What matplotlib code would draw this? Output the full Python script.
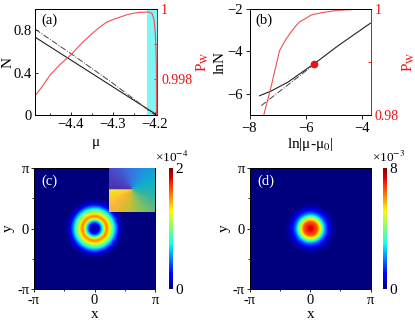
import numpy as np
import matplotlib
matplotlib.use("Agg")
import matplotlib.pyplot as plt
from matplotlib.colors import LinearSegmentedColormap

plt.rcParams['font.family'] = ['Liberation Serif', 'DejaVu Serif']
plt.rcParams['mathtext.fontset'] = 'stix'
plt.rcParams['axes.linewidth'] = 0.7

# panel (a)
mu_a = [-4.485, -4.195]
N_solid_a = [0.735, 0.0]
mu_dash_a = [-4.485, -4.40, -4.30, -4.20]
N_dash_a = [0.81, 0.58, 0.30, 0.0]
mu_pw_a = [-4.485, -4.47, -4.449, -4.425, -4.40, -4.385, -4.37, -4.35, -4.33, -4.315, -4.298,
           -4.28, -4.266, -4.25, -4.235, -4.215, -4.207, -4.202, -4.199, -4.1975, -4.1965, -4.196]
pw_a = [0.997514, 0.99775, 0.998114, 0.99842, 0.998686, 0.99888, 0.999066, 0.99929, 0.999494,
        0.99962, 0.999706, 0.99978, 0.999838, 0.99988, 0.999906, 0.999914, 0.999877, 0.999686,
        0.999306, 0.99885, 0.99835, 0.99697]
band_a = [-4.218, -4.195]

# panel (b)
lnmu_b = [-7.64, -7.23, -6.63, -6.04, -5.70, -4.85, -3.69]
lnN_b = [-6.09, -5.87, -5.45, -4.90, -4.59, -3.74, -2.67]
lnmu_dash_b = [-7.58, -5.70]
lnN_dash_b = [-6.56, -4.62]
lnmu_pw_b = [-7.49, -7.23, -6.93, -6.70, -6.51, -6.35, -6.21, -6.00, -5.80, -5.44, -4.85, -4.25, -3.69]
pw_b = [0.98, 0.98534, 0.99213, 0.9943, 0.99572, 0.9968, 0.9976, 0.9982, 0.99887, 0.9993,
        0.99975, 0.99992, 1.0]
point_b = (-5.70, -4.58)

# radial density profiles of (c) and (d), read along the radius
r_c = [0.0, 0.15, 0.26, 0.35, 0.44, 0.52, 0.62, 0.72, 0.80, 0.90, 1.04, 1.15, 1.27, 1.42, 1.6, 5.0]
dens_c = [0.05, 0.1, 0.25, 0.55, 0.85, 1.3, 1.55, 1.4, 1.25, 1.0, 0.7, 0.45, 0.2, 0.05, 0.0, 0.0]
r_d = [0.0, 0.1, 0.2, 0.35, 0.45, 0.52, 0.6, 0.69, 0.8, 0.95, 1.1, 1.25, 1.45, 5.0]
dens_d = [7.7, 7.4, 7.0, 6.6, 5.6, 5.0, 3.9, 2.8, 1.8, 0.9, 0.35, 0.1, 0.0, 0.0]

# colours round the inset phase picture, starting just under the left edge
inset_colors = ['#f8e71c', '#fbb43c', '#c8c030', '#7cbf6a', '#30b5a0', '#10b0c8',
                '#2090e0', '#3a6ee0', '#4a48c8', '#4c30b0']

W, H = 415, 320
fig = plt.figure(figsize=(W / 100, H / 100), dpi=100)


def axes_px(x0, x1, y0, y1):
    return fig.add_axes([x0 / W, 1 - y1 / H, (x1 - x0) / W, (y1 - y0) / H])


# (a)
ax = axes_px(35, 157, 9, 115)
ax.axvspan(band_a[0], band_a[1], color='#7ff5f5', lw=0)
ax.plot(mu_a, N_solid_a, color='#222222', lw=0.8)
ax.plot(mu_dash_a, N_dash_a, color='#444444', lw=0.7, ls='-.')
ax.set_xlim(-4.485, -4.195)
ax.set_ylim(0, 1)
ax.set_xticks([-4.4, -4.3, -4.2])
ax.set_xticklabels(['\u22124.4', '\u22124.3', '\u22124.2'])
ax.set_xticks([-4.45, -4.35, -4.25], minor=True)
ax.set_yticks([0, 0.4, 0.8])
ax.set_yticklabels(['0', '0.4', '0.8'])
ax.tick_params(which='both', direction='in', labelsize=10.5, length=2.5, width=0.6, pad=2.5)
ax.tick_params(which='minor', length=1.5)
ax.set_xlabel('\u03bc', fontsize=11, labelpad=3)
ax.set_ylabel('N', fontsize=11)
ax.yaxis.set_label_coords(-0.165, 0.5)
ax.text(0.05, 0.86, '(a)', transform=ax.transAxes, fontsize=10.5)
axr = ax.twinx()
axr.plot(mu_pw_a, pw_a, color='#f05050', lw=0.8)
axr.set_ylim(0.99697, 1)
axr.set_yticks([0.998, 0.999, 1])
axr.set_yticklabels(['0.998', '', '1'], color='#f01010')
axr.tick_params(direction='in', colors='#f01010', labelsize=10, length=2.5, width=0.6, pad=3)
axr.spines['right'].set_color('#f01010')
axr.set_ylabel('P$_{\\mathrm{W}}$', color='#f01010', fontsize=11)
axr.yaxis.set_label_coords(1.31, 0.5)

# (b)
ax = axes_px(249.5, 370.7, 9, 115)
ax.plot(lnmu_b, lnN_b, color='#222222', lw=0.8)
ax.plot(lnmu_dash_b, lnN_dash_b, color='#444444', lw=0.7, ls='-.')
ax.plot(point_b[0], point_b[1], 'o', color='#f01010', ms=4.5)
ax.set_xlim(-8, -3.68)
ax.set_ylim(-7, -2)
ax.set_xticks([-8, -6, -4])
ax.set_xticklabels(['\u22128', '\u22126', '\u22124'])
ax.set_yticks([-6, -4, -2])
ax.set_yticklabels(['\u22126', '\u22124', '\u22122'])
ax.tick_params(direction='out', labelsize=10.5, length=3, width=0.6, pad=2)
ax.set_xlabel('ln|\u03bc-\u03bc$_{0}$|', fontsize=11, labelpad=1)
ax.set_ylabel('lnN', fontsize=11)
ax.yaxis.set_label_coords(-0.19, 0.5)
ax.text(0.05, 0.86, '(b)', transform=ax.transAxes, fontsize=10.5)
axr = ax.twinx()
axr.plot(lnmu_pw_b, pw_b, color='#f05050', lw=0.8)
axr.set_ylim(0.98, 1)
axr.set_yticks([0.98, 0.99, 1])
axr.set_yticklabels(['0.98', '', '1'], color='#f01010')
axr.tick_params(direction='in', colors='#f01010', labelsize=10, length=2.5, width=0.6, pad=3)
axr.spines['right'].set_color('#f01010')
axr.set_ylabel('P$_{\\mathrm{W}}$', color='#f01010', fontsize=11)
axr.yaxis.set_label_coords(1.25, 0.5)

# density maps
grid = np.linspace(-np.pi, np.pi, 241)
xx, yy = np.meshgrid(grid, grid)
rr = np.hypot(xx, yy)
pi_labels = ['-\u03c0', '0', '\u03c0']


def density_panel(x0, cb_x0, exp_x, r, dens, vmax, tag, power):
    ax = axes_px(x0, x0 + 121, 168, 289)
    im = ax.imshow(np.interp(rr, r, dens), extent=[-np.pi, np.pi, -np.pi, np.pi], origin='lower',
                   cmap='jet', vmin=0, vmax=vmax, interpolation='bilinear')
    ax.set_xticks([-np.pi, 0, np.pi])
    ax.set_xticklabels(pi_labels)
    ax.set_yticks([-np.pi, 0, np.pi])
    ax.set_yticklabels(pi_labels)
    ax.set_xticks([-np.pi / 2, np.pi / 2], minor=True)
    ax.set_yticks([-np.pi / 2, np.pi / 2], minor=True)
    ax.tick_params(which='both', direction='out', labelsize=10.5, length=2, width=0.6, pad=1.5)
    ax.tick_params(which='minor', length=1.2)
    ax.set_xlabel('x', fontsize=11, labelpad=1)
    ax.set_ylabel('y', fontsize=11)
    ax.yaxis.set_label_coords(-0.155, 0.5)
    ax.text(0.06, 0.86, tag, transform=ax.transAxes, fontsize=10.5, color='white')
    cax = axes_px(cb_x0, cb_x0 + 4, 168, 289)
    cb = fig.colorbar(im, cax=cax)
    cb.set_ticks([0, vmax])
    cb.ax.tick_params(labelsize=11, length=0, pad=1.5)
    cb.outline.set_visible(False)
    fig.text(exp_x / W, 1 - 162 / H, '\u00d710$^{%d}$' % power, fontsize=9.5, ha='left', va='baseline')
    return ax


density_panel(34, 169, 155, r_c, dens_c, 2, '(c)', -4)
density_panel(249.7, 383, 372, r_d, dens_d, 8, '(d)', -3)

# phase inset of (c), the vortex core sits at u=0, v=0
inset = axes_px(109, 155, 168, 212)
inset.set_axis_off()
phase_cmap = LinearSegmentedColormap.from_list('phase', inset_colors)
uu, vv = np.meshgrid(np.linspace(-23, 23, 93), np.linspace(-23, 21, 89))
inset.imshow(np.arctan2(vv, uu), cmap=phase_cmap, origin='lower', aspect='auto')

fig.savefig('out.png', dpi=100)
